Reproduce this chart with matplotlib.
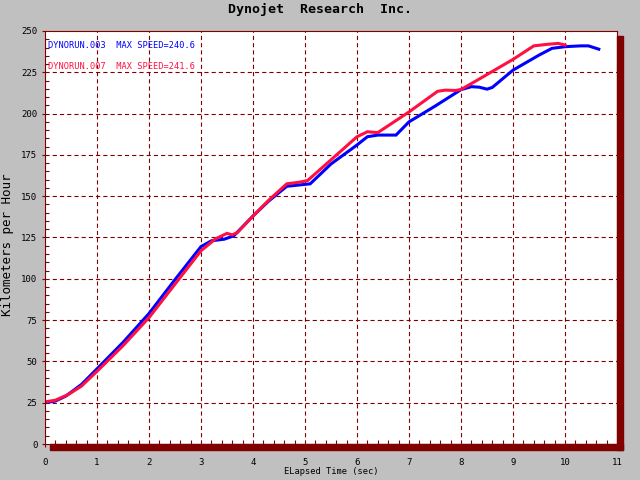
"""Dynojet speed run comparison chart."""
import matplotlib
matplotlib.use("Agg")
import matplotlib.pyplot as plt
from matplotlib.patches import Rectangle
from matplotlib.ticker import MultipleLocator

# run 003 (blue)
time_003 = [0, 0.2, 0.4, 0.7, 1.0, 1.5, 2.0, 2.5, 3.0, 3.2, 3.45, 3.63,
            4.0, 4.3, 4.65, 4.8, 5.1, 5.5, 6.0, 6.2, 6.4, 6.75, 7.0, 7.5, 8.0,
            8.2, 8.35, 8.5, 8.6, 9.0, 9.5, 9.75, 10.0, 10.3, 10.45, 10.55, 10.65]
speed_003 = [25, 26, 29, 36, 45.5, 61.5, 79, 99.5, 119.5, 123, 124, 126,
             138, 147, 156, 156.5, 157.5, 169.5, 181, 186, 187, 187, 195, 204.5, 214.5,
             216.3, 216, 214.8, 215.8, 226.3, 235.4, 239.5, 240.5, 241, 241, 240, 239]

# run 007 (red)
time_007 = [0, 0.2, 0.45, 0.7, 1.0, 1.5, 2.0, 2.58, 3.0, 3.28, 3.5, 3.6,
            3.7, 4.0, 4.3, 4.65, 4.9, 5.05, 5.5, 6.0, 6.2, 6.4, 7.0, 7.55, 7.7,
            7.9, 8.0, 8.3, 9.0, 9.4, 9.65, 9.87, 10.0]
speed_007 = [25.5, 26.5, 30, 35, 44, 59.5, 76.5, 100, 117, 124.2, 127.5, 126.6,
             128, 138, 147.5, 157.5, 158.5, 159.5, 172, 186, 189, 188.5, 201, 213.5, 214.2,
             214, 214.6, 220, 232.8, 241, 241.9, 242.5, 241.5]

run_labels = ["DYNORUN.003  MAX SPEED=240.6", "DYNORUN.007  MAX SPEED=241.6"]
x_ticks = list(range(0, 12))
y_ticks = list(range(0, 251, 25))

DARK_RED = "#800000"
BLUE = "#0000FF"
RED = "#FF1040"
MONO = "DejaVu Sans Mono"

plt.rcParams["lines.scale_dashes"] = False

W, H = 640, 480
fig = plt.figure(figsize=(W / 100, H / 100), dpi=100, facecolor="#C0C0C0")


def px(x0, y_top, x1, y_bot):
    # pixel box (top-down) -> figure fraction rect
    return [x0 / W, (H - y_bot) / H, (x1 - x0) / W, (y_bot - y_top) / H]


ax = fig.add_axes(px(45, 31, 617, 444))
ax.set_facecolor("white")

ax.plot(time_003, speed_003, color=BLUE, lw=2.2, solid_joinstyle="miter")
ax.plot(time_007, speed_007, color=RED, lw=2.2, solid_joinstyle="miter")

ax.set_xlim(0, 11)
ax.set_ylim(0, 250)
ax.set_xticks(x_ticks)
ax.set_yticks(y_ticks)
ax.xaxis.set_minor_locator(MultipleLocator(0.2))
ax.yaxis.set_minor_locator(MultipleLocator(5))

for t in x_ticks[1:-1]:
    ax.axvline(t, color=DARK_RED, lw=0.8, ls=(0, (3, 2.2)), zorder=0.5)
for v in y_ticks[1:-1]:
    ax.axhline(v, color=DARK_RED, lw=0.8, ls=(0, (3, 2.2)), zorder=0.5)

for sp in ax.spines.values():
    sp.set_color(DARK_RED)
    sp.set_linewidth(0.8)

ax.tick_params(which="major", direction="out", length=2.5, width=0.8,
               color=DARK_RED, labelcolor="black", labelsize=6.5)
ax.tick_params(which="minor", direction="in", length=3, width=0.8, color=DARK_RED)
ax.tick_params(axis="x", which="major", pad=7.5)
ax.tick_params(axis="y", which="major", pad=3)
for lab in ax.get_xticklabels() + ax.get_yticklabels():
    lab.set_family(MONO)

ax.set_xlabel("ELapsed Time (sec)", family=MONO, fontsize=6.3, labelpad=0)
fig.text(8 / W, 1 - 245 / H, "Kilometers per Hour", rotation=90, ha="center",
         va="center", family=MONO, fontsize=9)

ax.text(0.006, 0.964, run_labels[0], transform=ax.transAxes, color=BLUE,
        family=MONO, fontsize=6.2, va="center")
ax.text(0.006, 0.915, run_labels[1], transform=ax.transAxes, color=RED,
        family=MONO, fontsize=6.2, va="center")

fig.text(0.5, 1 - 9 / H, "Dynojet  Research  Inc.", ha="center", va="center",
         family=MONO, fontweight="bold", fontsize=9.5)

# drop shadow on the right and bottom
fig.patches.append(Rectangle(px(617, 36, 623, 450)[:2], 6 / W, 414 / H,
                             transform=fig.transFigure, color=DARK_RED, zorder=3))
fig.patches.append(Rectangle(px(50, 444, 623, 450)[:2], 573 / W, 6 / H,
                             transform=fig.transFigure, color=DARK_RED, zorder=3))

fig.savefig("out.png", dpi=100, facecolor=fig.get_facecolor())
